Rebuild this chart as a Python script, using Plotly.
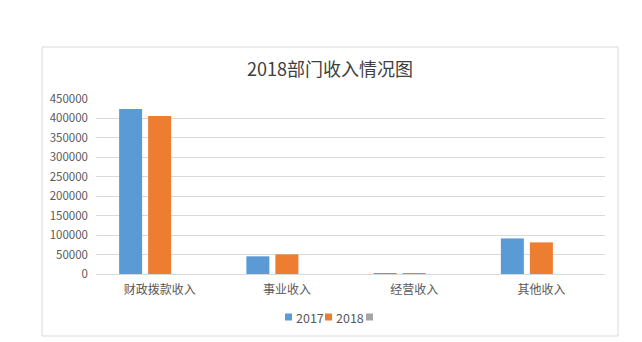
import plotly.graph_objects as go

categories = ["财政拨款收入", "事业收入", "经营收入", "其他收入"]
series_names = ["2017", "2018", ""]
values_2017 = [424000, 45500, 2500, 91500]
values_2018 = [406000, 50500, 2000, 81300]
values_3 = [None, None, None, None]
y_ticks = list(range(0, 450001, 50000))
colors = ["#5B9BD5", "#ED7D31", "#A5A5A5"]

FONT = "Noto Sans CJK SC, Noto Sans, DejaVu Sans"

L, R, T, B = 96, 37, 99, 68
W, H = 642, 342
PW, PH = W - L - R, H - T - B


def px_x(x):
    return (x - L) / PW


def px_y(y):
    return (H - B - y) / PH


fig = go.Figure()
for name, vals, c in zip(series_names, [values_2017, values_2018, values_3], colors):
    fig.add_trace(go.Bar(x=categories, y=vals, name=name, showlegend=False,
                         marker=dict(color=c, line=dict(width=0))))

shapes = [dict(type="rect", xref="paper", yref="paper",
               x0=px_x(42), x1=px_x(618), y0=px_y(336), y1=px_y(47),
               line=dict(color="#D9D9D9", width=1), fillcolor="rgba(0,0,0,0)", layer="below")]
annotations = []
# legend: small squares followed by names
leg_x = [285, 325, 366]
leg_y = 317
for x0, name, c in zip(leg_x, series_names, colors):
    shapes.append(dict(type="rect", xref="paper", yref="paper",
                       x0=px_x(x0), x1=px_x(x0 + 7), y0=px_y(leg_y + 3.5), y1=px_y(leg_y - 3.5),
                       line=dict(width=0), fillcolor=c))
    if name:
        annotations.append(dict(xref="paper", yref="paper", x=px_x(x0 + 9), y=px_y(leg_y),
                                xanchor="left", yanchor="middle", text=name, showarrow=False,
                                font=dict(family=FONT, size=12.5, color="#595959")))

fig.update_layout(
    width=W, height=H,
    margin=dict(l=L, r=R, t=T, b=B),
    paper_bgcolor="white", plot_bgcolor="white",
    barmode="group", bargap=0.316, bargroupgap=0.207,
    font=dict(family=FONT, size=12, color="#595959"),
    title=dict(text="2018部门收入情况图", x=330/642, xanchor="center", y=1-70/342, yanchor="middle",
               font=dict(family=FONT, size=18, color="#404040")),
    showlegend=False,
    xaxis=dict(showgrid=False, showline=True, linecolor="#D9D9D9", linewidth=1, ticks="",
               ticklabelstandoff=5, tickfont=dict(size=12, color="#595959"), fixedrange=True),
    yaxis=dict(range=[0, 450000], tickvals=y_ticks, ticktext=[str(v) for v in y_ticks],
               showgrid=True, gridcolor="#D9D9D9", gridwidth=1, zeroline=False, showline=False,
               ticks="", ticklabelstandoff=7, tickfont=dict(size=11.5, color="#595959")),
    shapes=shapes,
    annotations=annotations,
)

fig.write_html("out.html")
